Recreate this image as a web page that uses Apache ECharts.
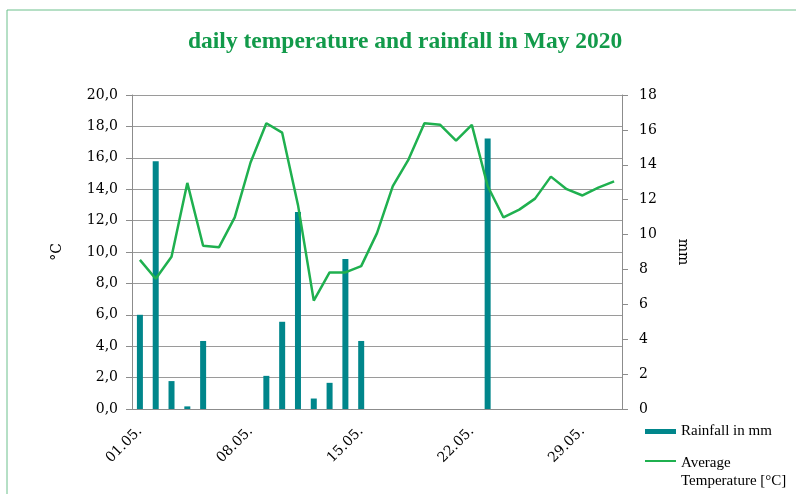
<!DOCTYPE html>
<html>
<head>
<meta charset="utf-8">
<script src="https://cdn.jsdelivr.net/npm/echarts@6/dist/echarts.min.js"></script>
<style>
  html, body { margin: 0; padding: 0; background: #fff; }
  #main { width: 796px; height: 494px; }
</style>
</head>
<body>
<div id="main"></div>
<script>
// days of May 2020
var days = [];
for (var d = 1; d <= 31; d++) {
  days.push((d < 10 ? '0' + d : '' + d) + '.05.');
}
// average temperature in °C (left axis)
var temperature = [9.5, 8.3, 9.7, 14.4, 10.4, 10.3, 12.2, 15.7, 18.2, 17.6,
  13.0, 6.9, 8.7, 8.7, 9.1, 11.2, 14.2, 15.9, 18.2, 18.1,
  17.1, 18.1, 14.2, 12.2, 12.7, 13.4, 14.8, 14.0, 13.6, 14.1, 14.5];
// rainfall in mm (right axis)
var rainfall = [5.4, 14.2, 1.6, 0.15, 3.9, 0, 0, 0, 1.9, 5.0,
  11.3, 0.6, 1.5, 8.6, 3.9, 0, 0, 0, 0, 0,
  0, 0, 15.5, 0, 0, 0, 0, 0, 0, 0, 0];

var serif = 'DejaVu Serif';
var chart = echarts.init(document.getElementById('main'));
chart.setOption({
  animation: false,
  title: {
    text: 'daily temperature and rainfall in May 2020',
    left: 183,
    top: 25,
    textStyle: { fontFamily: 'Liberation Serif', fontWeight: 'bold', fontSize: 23.5, color: '#129a4a' }
  },
  graphic: [{
    type: 'rect',
    shape: { x: 7, y: 10, width: 800, height: 500 },
    style: { fill: 'none', stroke: '#6cc08c', lineWidth: 1 }
  }],
  legend: [{
    orient: 'vertical',
    left: 640,
    top: 419,
    itemWidth: 31,
    itemHeight: 5,
    icon: 'rect',
    data: ['Rainfall in mm'],
    textStyle: { fontFamily: 'Liberation Serif', fontSize: 15, color: '#000' }
  }, {
    orient: 'vertical',
    left: 640,
    top: 449,
    itemWidth: 31,
    itemHeight: 36,
    // thin line near the top of a tall icon box, so it sits by the first text line
    icon: 'path://M0,0H0.01V0.01H0Z M0,6H31V8H0Z M0,36H0.01V36.01H0Z',
    itemStyle: { borderWidth: 0 },
    data: ['Average Temperature [°C]'],
    formatter: function () { return 'Average\nTemperature [°C]'; },
    textStyle: { fontFamily: 'Liberation Serif', fontSize: 15, color: '#000', lineHeight: 18 }
  }],
  grid: { left: 132, right: 174, top: 95, bottom: 85 },
  xAxis: {
    type: 'category',
    data: days,
    axisLine: { lineStyle: { color: '#8c8c8c' } },
    axisTick: { interval: 6, length: 5, lineStyle: { color: '#8c8c8c' } },
    axisLabel: { interval: 6, rotate: 45, margin: 20, fontFamily: serif, fontSize: 14, color: '#000' }
  },
  yAxis: [{
    type: 'value',
    name: '°C',
    nameLocation: 'middle',
    nameGap: 68,
    nameTextStyle: { fontFamily: serif, fontSize: 14, color: '#000' },
    min: 0,
    max: 20,
    interval: 2,
    axisLine: { show: true, lineStyle: { color: '#8c8c8c' } },
    axisTick: { show: true, length: 6, lineStyle: { color: '#8c8c8c' } },
    axisLabel: {
      margin: 14, fontFamily: serif, fontSize: 14, color: '#000',
      formatter: function (v) { return v.toFixed(1).replace('.', ','); }
    },
    splitLine: { lineStyle: { color: '#9a9a9a' } }
  }, {
    type: 'value',
    name: 'mm',
    nameLocation: 'middle',
    nameGap: 54,
    nameRotate: -90,
    nameTextStyle: { fontFamily: serif, fontSize: 14, color: '#000' },
    min: 0,
    max: 18,
    interval: 2,
    position: 'right',
    axisLine: { show: true, lineStyle: { color: '#8c8c8c' } },
    axisTick: { show: true, length: 6, lineStyle: { color: '#8c8c8c' } },
    axisLabel: { margin: 17, fontFamily: serif, fontSize: 14, color: '#000' },
    splitLine: { show: false }
  }],
  series: [{
    name: 'Rainfall in mm',
    type: 'bar',
    yAxisIndex: 1,
    barWidth: 6,
    data: rainfall,
    itemStyle: { color: '#00868b' }
  }, {
    name: 'Average Temperature [°C]',
    type: 'line',
    yAxisIndex: 0,
    data: temperature,
    showSymbol: false,
    symbol: 'none',
    lineStyle: { color: '#1fb04f', width: 2.5 },
    itemStyle: { color: '#1fb04f' }
  }]
});
</script>
</body>
</html>
